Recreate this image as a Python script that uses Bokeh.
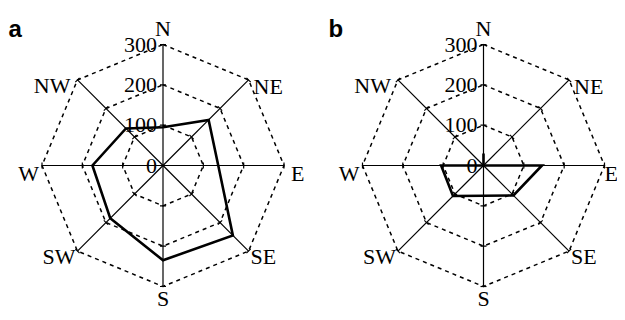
import numpy as np
from bokeh.plotting import figure
from bokeh.models import Label
from bokeh.embed import file_html
from bokeh.resources import INLINE
from bokeh.core.properties import value

# ---- data ----
directions = ["N", "NE", "E", "SE", "S", "SW", "W", "NW"]
values_a = [95, 160, 137, 245, 235, 185, 175, 130]
values_b = [30, 0, 145, 105, 75, 107, 105, 0]
ring_levels = [100, 200, 300]
tick_values = [0, 100, 200, 300]
tick_labels = ["0", "100", "200", "300"]
panel_labels = ["a", "b"]

# ---- layout ----
W, H = 617, 312
PX = 121.0 / 300.0          # pixels per data unit
U = 1.0 / PX                # data units per pixel
CX_A, CY = 162.5, 165       # centre of panel a (px from left/top)
CX_B = 483
RMAX = 300
FS = "22px"

p = figure(width=W, height=H, output_backend="svg", toolbar_location=None,
           x_range=(-CX_A * U, (W - CX_A) * U),
           y_range=(-(H - CY) * U, CY * U),
           min_border=0, tools="")
p.axis.visible = False
p.grid.visible = False
p.outline_line_color = None
p.background_fill_color = "white"
p.border_fill_color = "white"

theta = np.deg2rad(90 - 45 * np.arange(len(directions)))
cosT, sinT = np.cos(theta), np.sin(theta)

serif = value("Liberation Serif")

# label placement relative to spoke end, in px: (dx right, dy down to baseline)
lab_dx = [0, 5, 7, 2, 0, -2, -3, -7]
lab_dy = [-16, 7, 8, 5, 12, 5, 8, 6]
lab_align = ["center", "left", "left", "left", "center", "right", "right", "right"]


def radar(cx, vals, e_dx):
    cy = 0.0
    # dashed octagon rings
    for lev in ring_levels:
        xs = list(cx + lev * cosT) + [cx + lev * cosT[0]]
        ys = list(cy + lev * sinT) + [cy + lev * sinT[0]]
        p.line(xs, ys, line_color="black", line_width=1.5, line_dash="4 4")
    # spokes
    p.segment(x0=[cx] * 8, y0=[cy] * 8, x1=list(cx + RMAX * cosT),
              y1=list(cy + RMAX * sinT), line_color="black", line_width=1.2)
    # small ticks across spokes
    tx0, ty0, tx1, ty1 = [], [], [], []
    for lev in ring_levels:
        for c, s in zip(cosT, sinT):
            bx, by = cx + lev * c, cy + lev * s
            px_, py_ = -s * 3 * U, c * 3 * U
            tx0.append(bx - px_); ty0.append(by - py_)
            tx1.append(bx + px_); ty1.append(by + py_)
    p.segment(x0=tx0, y0=ty0, x1=tx1, y1=ty1, line_color="black", line_width=1.2)
    # data polygon
    v = np.array(vals, dtype=float)
    xs = list(cx + v * cosT) + [cx + v[0] * cosT[0]]
    ys = list(cy + v * sinT) + [cy + v[0] * sinT[0]]
    p.line(xs, ys, line_color="black", line_width=2.6, line_join="miter")
    # radial tick labels
    p.text(x=[cx - 6 * U] * len(tick_values), y=[cy + t for t in tick_values],
           text=tick_labels, text_align="right", text_baseline="middle",
           text_font=serif, text_font_size=FS, text_color="black")
    # direction labels
    ex = cx + RMAX * cosT
    ey = cy + RMAX * sinT
    for align in ["center", "left", "right"]:
        idx = [i for i in range(8) if lab_align[i] == align]
        dxs = [e_dx if i == 2 else lab_dx[i] for i in idx]
        p.text(x=[ex[i] + d * U for i, d in zip(idx, dxs)],
               y=[ey[i] - lab_dy[i] * U for i in idx],
               text=[directions[i] for i in idx],
               text_align=align, text_baseline="alphabetic",
               text_font=serif, text_font_size=FS, text_color="black")


radar(0.0, values_a, 7)
radar((CX_B - CX_A) * U, values_b, 0)

for lab, sx in zip(panel_labels, [8, 328]):
    p.add_layout(Label(x=sx, y=H - 28, x_units="screen", y_units="screen",
                       text=lab, text_font="Liberation Sans", text_font_style="bold",
                       text_font_size="24px", text_color="black",
                       text_baseline="alphabetic"))

open("out.html", "w").write(file_html(p, INLINE))
